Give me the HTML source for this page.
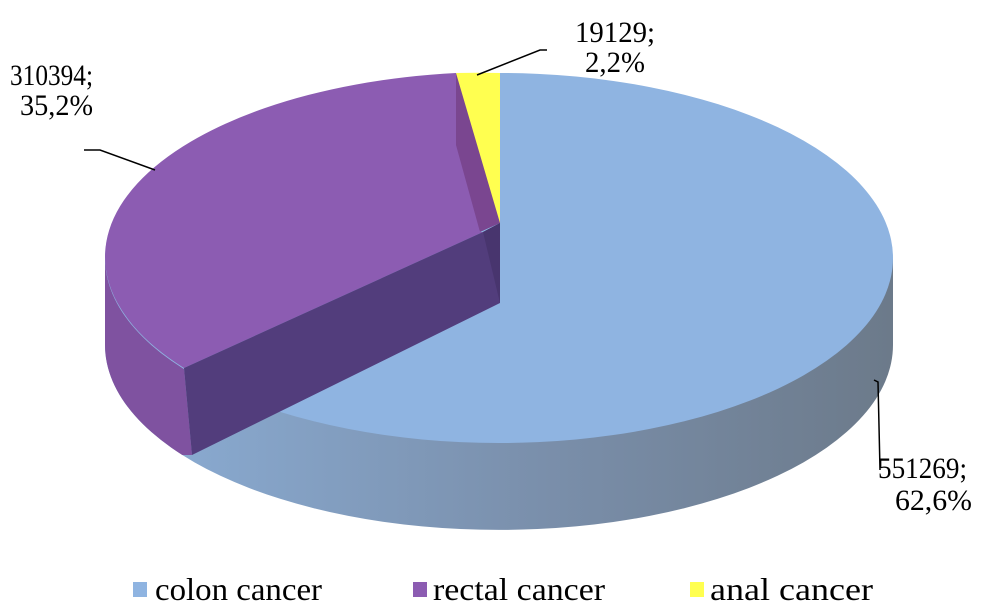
<!DOCTYPE html>
<html><head><style>
body{margin:0;background:#fff}
svg{display:block}
text{font-family:"Liberation Serif",serif;fill:#000}
</style></head><body>
<svg width="997" height="615" viewBox="0 0 997 615">
<defs>
<linearGradient id="side" x1="192" x2="893" y1="0" y2="0" gradientUnits="userSpaceOnUse">
<stop offset="0" stop-color="#88a8ce"/><stop offset="0.5" stop-color="#7a8fab"/><stop offset="1" stop-color="#6c7a8a"/>
</linearGradient>
<clipPath id="lc"><polygon points="0,0 184,0 184,368 192,455 0,455"/></clipPath>
</defs>
<path d="M105,258 L105,345 A394,185 0 0 0 893,345 L893,258 Z" fill="url(#side)"/>
<path d="M105,258 L105,345 A394,185 0 0 0 893,345 L893,258 Z" fill="#7f52a0" clip-path="url(#lc)"/>
<ellipse cx="499" cy="258" rx="394" ry="185" fill="#8fb4e1"/>
<path d="M456,73 A394,185 0 0 0 184,368 L483,232 L480,232 Z" fill="#8c5cb2"/>
<polygon points="456,73 456,145 480,232 500,223 500,150" fill="#7a4690"/>
<path d="M456,73 A394,185 0 0 1 500,73 L500,223 Z" fill="#ffff50"/>
<polygon points="184,368 483,232 500,223 500,303 192,455" fill="#523d7c"/>
<polygon points="483,232 500,223 500,303" fill="#48356e"/>
<polyline points="84,150 100,150 155,170" fill="none" stroke="#000" stroke-width="1.5"/>
<polyline points="547,50 540,50 477,75" fill="none" stroke="#000" stroke-width="1.5"/>
<polyline points="874,380 878,382 880,470" fill="none" stroke="#000" stroke-width="1.5"/>
<g font-size="30">
<text x="10" y="85" textLength="83" lengthAdjust="spacingAndGlyphs">310394;</text>
<text x="20" y="115" textLength="73" lengthAdjust="spacingAndGlyphs">35,2%</text>
<text x="575" y="42" textLength="80" lengthAdjust="spacingAndGlyphs">19129;</text>
<text x="585" y="72" textLength="60" lengthAdjust="spacingAndGlyphs">2,2%</text>
<text x="878" y="478" textLength="89" lengthAdjust="spacingAndGlyphs">551269;</text>
<text x="895" y="510" textLength="77" lengthAdjust="spacingAndGlyphs">62,6%</text>
</g>
<g font-size="32">
<rect x="133" y="582" width="14" height="15" fill="#8fb4e1"/><text x="155" y="600" textLength="167" lengthAdjust="spacingAndGlyphs">colon cancer</text>
<rect x="413" y="582" width="14" height="15" fill="#8c5cb2"/><text x="433" y="600" textLength="172" lengthAdjust="spacingAndGlyphs">rectal cancer</text>
<rect x="690" y="582" width="14" height="15" fill="#ffff50"/><text x="710" y="600" textLength="163" lengthAdjust="spacingAndGlyphs">anal cancer</text>
</g>
</svg>
</body></html>
